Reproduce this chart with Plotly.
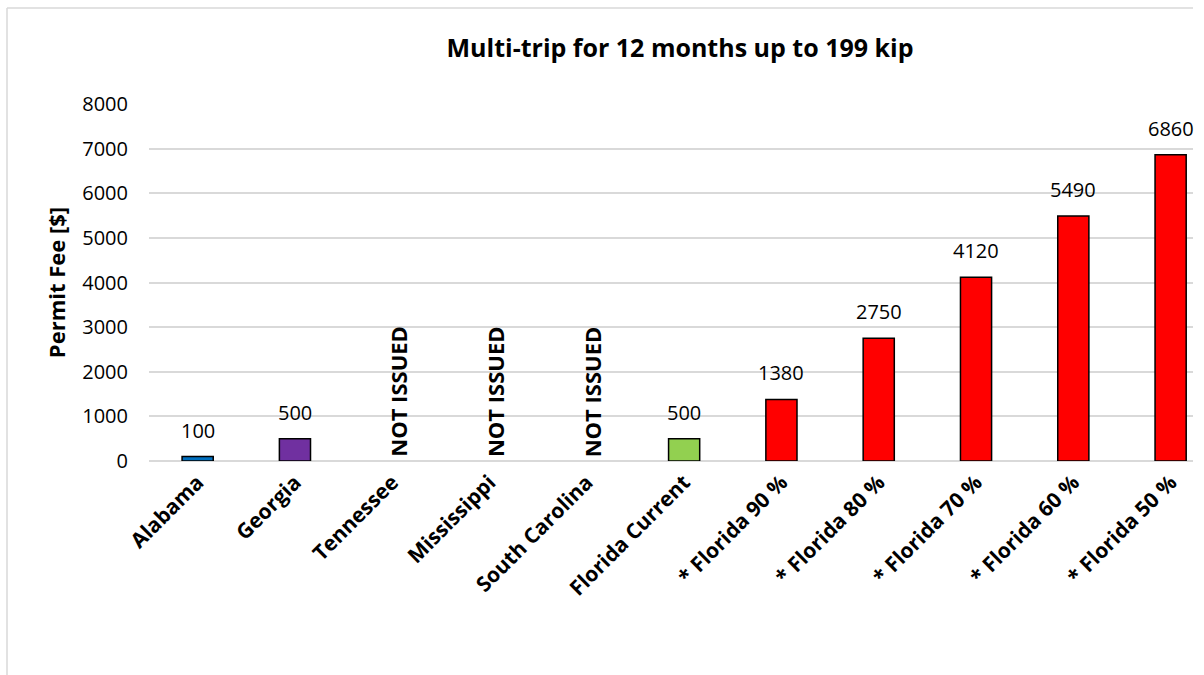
import plotly.graph_objects as go

# Permit fees for a 12-month multi-trip permit (up to 199 kip)
states = ["Alabama", "Georgia", "Tennessee", "Mississippi", "South Carolina",
          "Florida Current", "* Florida 90 %", "* Florida 80 %", "* Florida 70 %",
          "* Florida 60 %", "* Florida 50 %"]
fees = [100, 500, None, None, None, 500, 1380, 2750, 4120, 5490, 6860]
bar_colors = ["#0070C0", "#7030A0", "#FF0000", "#FF0000", "#FF0000", "#92D050",
              "#FF0000", "#FF0000", "#FF0000", "#FF0000", "#FF0000"]
not_issued = ["Tennessee", "Mississippi", "South Carolina"]
y_ticks = [0, 1000, 2000, 3000, 4000, 5000, 6000, 7000, 8000]

FONT = "Open Sans"
positions = list(range(len(states)))

fig = go.Figure()
fig.add_trace(go.Bar(
    x=positions,
    y=fees,
    marker=dict(color=bar_colors, line=dict(color="#000000", width=1.5)),
    width=0.32,
    hoverinfo="skip",
))

# value labels above each bar
for pos, val in zip(positions, fees):
    if val is None:
        continue
    fig.add_annotation(
        x=pos, y=val, xref="x", yref="y", text=str(val), showarrow=False,
        yanchor="bottom", yshift=11,
        font=dict(family=FONT, size=20, color="#000000"),
    )

# states that do not issue this permit
for name in not_issued:
    fig.add_annotation(
        x=states.index(name), y=0, xref="x", yref="y", xshift=5,
        text="<b>NOT ISSUED</b>", textangle=-90, showarrow=False,
        yanchor="bottom", yshift=2,
        font=dict(family=FONT, size=22, color="#000000"),
    )

# chart frame (top and left edges)
frame_top = 1.0 + (104 - 8) / 357
frame_left = -(149 - 7) / 1044
fig.add_shape(type="line", xref="paper", yref="paper", x0=frame_left, x1=1.0,
              y0=frame_top, y1=frame_top,
              line=dict(color="#d9d9d9", width=1.5), layer="below")
fig.add_shape(type="line", xref="paper", yref="paper",
              x0=frame_left, x1=frame_left, y0=-214 / 357, y1=frame_top,
              line=dict(color="#d9d9d9", width=1.5), layer="below")

fig.update_layout(
    width=1204, height=675,
    margin=dict(l=149, r=11, t=104, b=214),
    paper_bgcolor="#ffffff", plot_bgcolor="#ffffff",
    showlegend=False,
    title=dict(text="<b>Multi-trip for 12 months up to 199 kip</b>",
               x=680 / 1204, xanchor="center", y=1 - 48 / 675, yanchor="middle",
               font=dict(family=FONT, size=25, color="#000000")),
    xaxis=dict(
        tickmode="array", tickvals=positions,
        ticktext=["<b>%s</b>" % s for s in states],
        tickangle=-45, range=[-0.5, 10.23],
        tickfont=dict(family=FONT, size=21, color="#000000"),
        showgrid=False, zeroline=False, showline=False, ticks="",
        ticklabelstandoff=4,
    ),
    yaxis=dict(
        range=[0, 8000], tickvals=y_ticks,
        tickfont=dict(family=FONT, size=20, color="#000000"),
        showgrid=True, gridcolor="#d9d9d9", gridwidth=1.5,
        zeroline=True, zerolinecolor="#d9d9d9", zerolinewidth=1.5,
        showline=False, ticks="", ticklabelstandoff=20,
        title=dict(text="<b>Permit Fee [$]</b>", standoff=10,
                   font=dict(family=FONT, size=22, color="#000000")),
    ),
)

fig.write_html("out.html")
